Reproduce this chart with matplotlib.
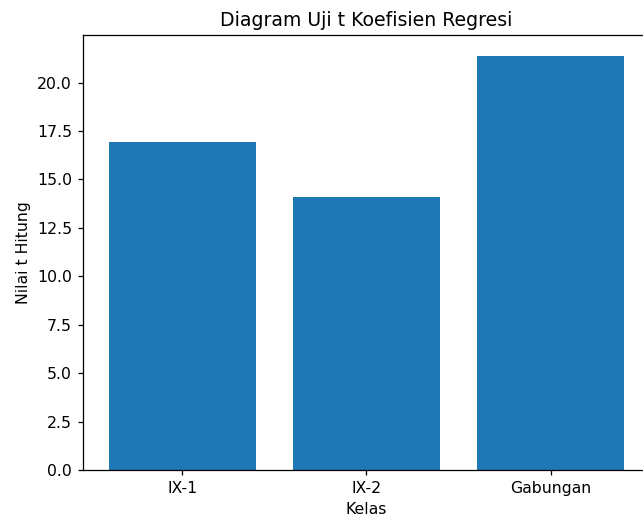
import matplotlib
matplotlib.use('Agg')
import matplotlib.pyplot as plt

kelas = ['IX-1', 'IX-2', 'Gabungan']
t_hitung = [16.92, 14.09, 21.39]

dpi = 113
fig = plt.figure(figsize=(643 / dpi, 520 / dpi), dpi=dpi)
# axes run past the right edge, as in the cropped screenshot
ax = fig.add_axes([83 / 643, 50 / 520, 567 / 643, 435 / 520])
ax.bar(kelas, t_hitung, color='#1f77b4')
ax.set_xlabel('Kelas')
ax.set_ylabel('Nilai t Hitung')
ax.set_title('Diagram Uji t Koefisien Regresi')

fig.savefig('out.png', dpi=dpi)
